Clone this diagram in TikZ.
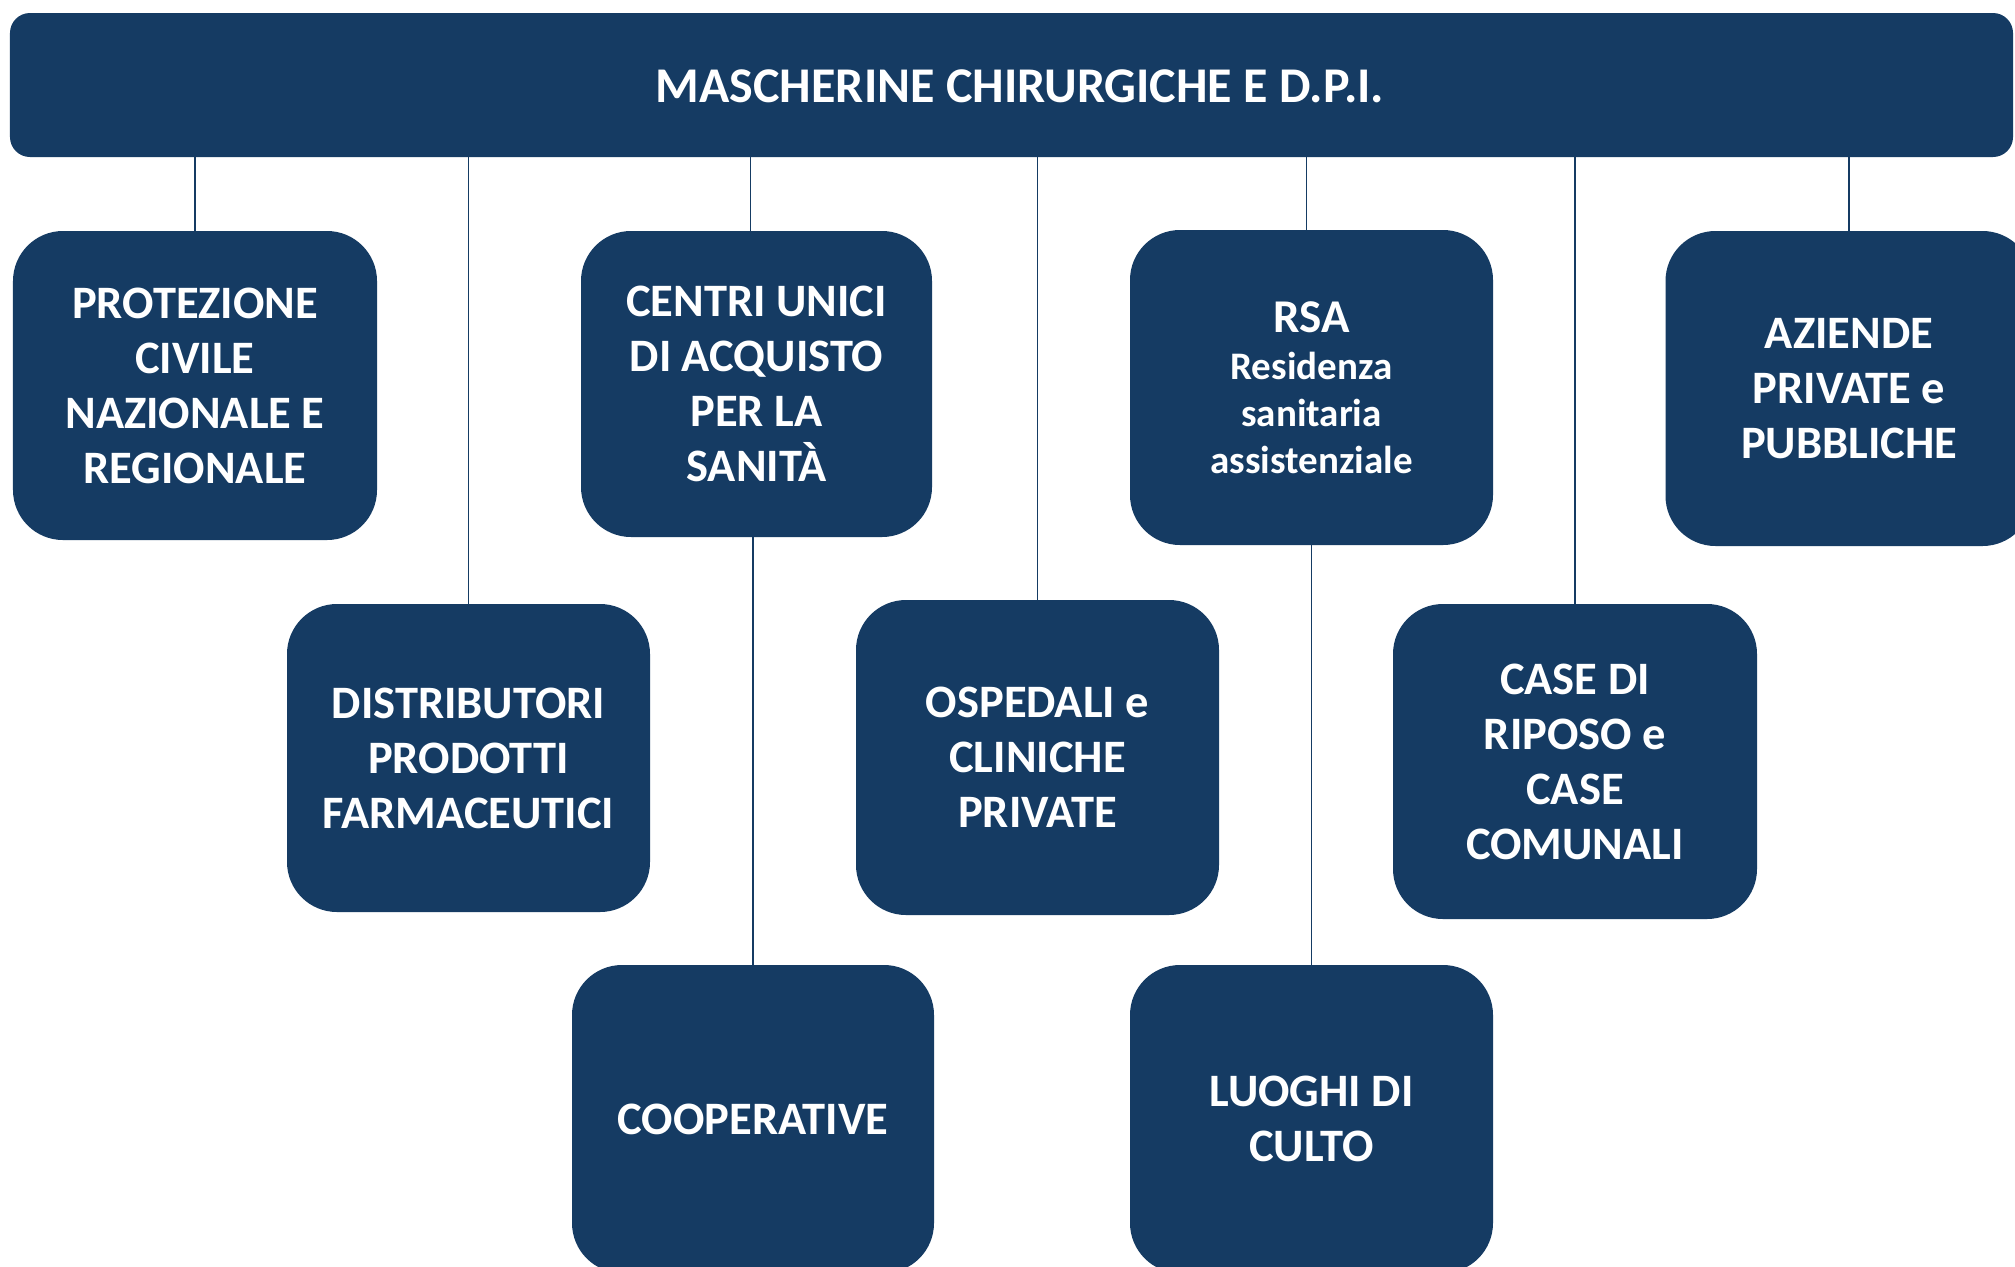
\documentclass[tikz,border=0pt]{standalone}
\usepackage{fontspec}
\setmainfont{Carlito}
\definecolor{navy}{RGB}{21,59,99}
\begin{document}
\begin{tikzpicture}[x=1bp,y=-1bp,
  box/.style={fill=navy, rounded corners=50bp, inner sep=0pt, text=white, align=center,
    font=\bfseries\fontsize{46.5bp}{55bp}\selectfont},
  link/.style={draw=navy, line width=1.6bp}]
\path[use as bounding box, clip] (0,0) rectangle (2015,1266);
\fill[white] (0,0) rectangle (2015,1266);
% top bar
\node[fill=navy, rounded corners=20bp, inner sep=0pt, minimum width=2003bp, minimum height=144bp] (bar) at (1011.5,85) {};
\node[text=white, inner sep=0pt, font=\bfseries\fontsize{50bp}{55bp}\selectfont] (title) at (1020,86) {MASCHERINE CHIRURGICHE E D.P.I.};
% boxes
\node[box, minimum width=364bp, minimum height=309bp] (prot) at (195,385.5) {PROTEZIONE\\CIVILE\\NAZIONALE E\\REGIONALE};
\node[box, minimum width=351bp, minimum height=306bp] (centri) at (756.5,384) {CENTRI UNICI\\DI ACQUISTO\\PER LA\\SANITÀ};
\node[box, minimum width=363bp, minimum height=315bp, font=\bfseries\fontsize{39bp}{47bp}\selectfont] (rsa) at (1311.5,387.5)
  {{\fontsize{47bp}{51bp}\selectfont RSA}\\Residenza\\sanitaria\\assistenziale};
\node[box, minimum width=367bp, minimum height=315bp] (aziende) at (1849,388.5) {AZIENDE\\PRIVATE e\\PUBBLICHE};
\node[box, minimum width=363bp, minimum height=308bp] (distr) at (468.5,758) {DISTRIBUTORI\\PRODOTTI\\FARMACEUTICI};
\node[box, minimum width=363bp, minimum height=315bp] (osped) at (1037.5,757.5) {OSPEDALI e\\CLINICHE\\PRIVATE};
\node[box, minimum width=364bp, minimum height=315bp] (case) at (1575,761.5) {CASE DI\\RIPOSO e\\CASE\\COMUNALI};
\node[box, minimum width=362bp, minimum height=308bp] (coop) at (753,1119) {COOPERATIVE};
\node[box, minimum width=363bp, minimum height=308bp] (luoghi) at (1311.5,1119) {LUOGHI DI\\CULTO};
% connectors
\foreach \n in {prot,aziende,distr,osped,case}
  \draw[link] (\n.north) -- (\n.north |- bar.south);
\draw[link] ([xshift=-6bp]centri.north) -- ([xshift=-6bp]centri.north |- bar.south);
\draw[link] ([xshift=-5bp]rsa.north) -- ([xshift=-5bp]rsa.north |- bar.south);
\draw[link] (coop.north) -- (coop.north |- centri.south);
\draw[link] (luoghi.north) -- (luoghi.north |- rsa.south);
\end{tikzpicture}
\end{document}
